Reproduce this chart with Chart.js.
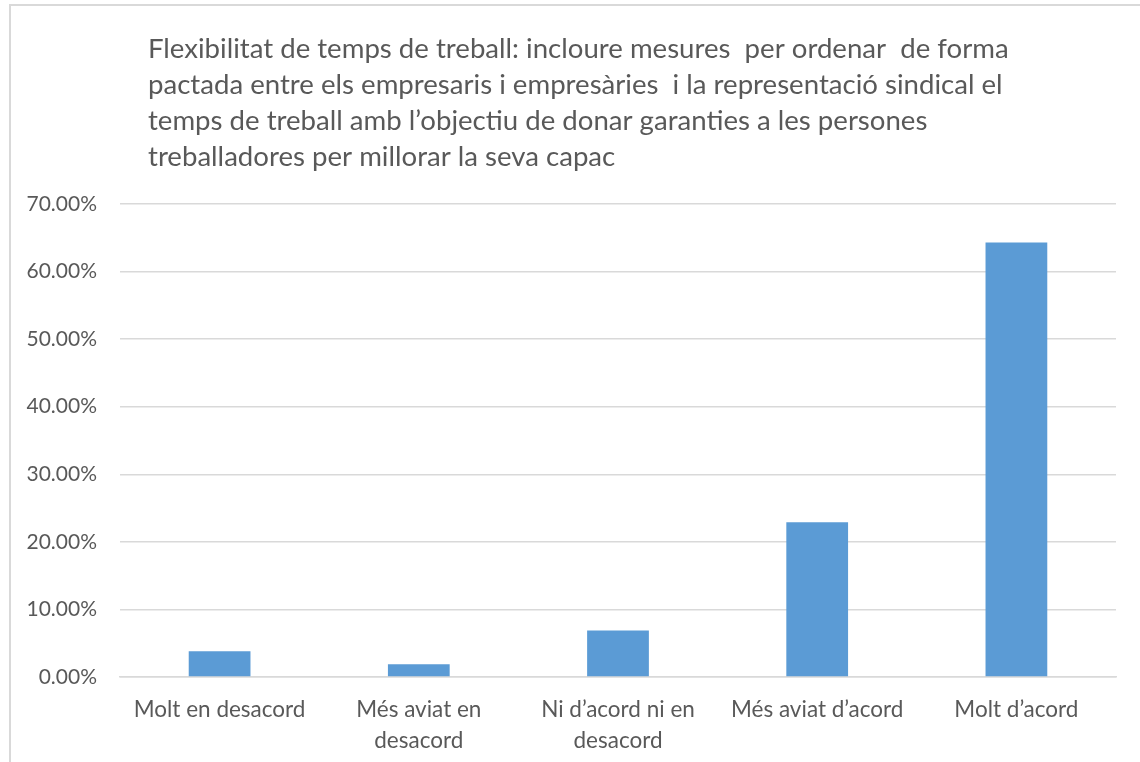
<!DOCTYPE html>
<html>
<head>
<meta charset="utf-8">
<script src="https://cdn.jsdelivr.net/npm/chart.js@4"></script>
<style>
  html, body { margin: 0; padding: 0; background: #ffffff; }
  #wrap { position: absolute; left: 0; top: 0; width: 1140px; height: 762px; }
  #frame { position: absolute; left: 9px; top: 4px; width: 1131px; height: 758px;
           border-left: 2px solid #d9d9d9; border-top: 2px solid #d9d9d9; box-sizing: border-box; }
  canvas { position: absolute; left: 0; top: 0; }
</style>
</head>
<body>
<div id="wrap">
  <div id="frame"></div>
  <canvas id="c" width="1140" height="762"></canvas>
</div>
<script>
const titleLines = [
  "Flexibilitat de temps de treball: incloure mesures  per ordenar  de forma",
  "pactada entre els empresaris i empresàries  i la representació sindical el",
  "temps de treball amb l\u2019objectiu de donar garanties a les persones",
  "treballadores per millorar la seva capac"
];
const categories = [
  ["Molt en desacord"],
  ["Més aviat en", "desacord"],
  ["Ni d\u2019acord ni en", "desacord"],
  ["Més aviat d\u2019acord"],
  ["Molt d\u2019acord"]
];
const values = [3.8, 1.9, 6.9, 22.9, 64.3];
const yTicks = [0, 10, 20, 30, 40, 50, 60, 70];

const textColor = "#595959";
const gridColor = "#d9d9d9";
const barColor = "#5b9bd5";

const titlePlugin = {
  id: "leftTitle",
  afterDraw(chart) {
    const ctx = chart.ctx;
    ctx.save();
    ctx.fillStyle = textColor;
    ctx.font = "27.6px Lato";
    ctx.textAlign = "left";
    ctx.textBaseline = "middle";
    titleLines.forEach((line, i) => ctx.fillText(line, 148, 49 + i * 36));
    ctx.restore();
  }
};

new Chart(document.getElementById("c"), {
  type: "bar",
  data: {
    labels: categories,
    datasets: [{
      data: values,
      backgroundColor: barColor,
      borderWidth: 0,
      barPercentage: 0.62,
      categoryPercentage: 0.5
    }]
  },
  options: {
    responsive: false,
    animation: false,
    devicePixelRatio: 1,
    layout: { padding: { top: 204, right: 24, left: 0, bottom: 0 } },
    plugins: {
      legend: { display: false },
      title: { display: false },
      tooltip: { enabled: false }
    },
    scales: {
      x: {
        grid: { display: false, drawTicks: false },
        border: { display: true, color: gridColor, width: 1.5 },
        ticks: {
          color: textColor,
          font: { family: "Lato", size: 22.5, lineHeight: 1.35 },
          padding: 18,
          maxRotation: 0,
          autoSkip: false
        },
        afterFit(scale) { scale.height = 85; }
      },
      y: {
        min: 0,
        max: 70,
        afterBuildTicks(scale) { scale.ticks = yTicks.map(v => ({ value: v })); },
        grid: { color: gridColor, lineWidth: 1.5, drawTicks: false },
        border: { display: false },
        ticks: {
          color: textColor,
          font: { family: "Lato", size: 21 },
          padding: 23,
          callback: v => v.toFixed(2) + "%"
        },
        afterFit(scale) { scale.width = 120; }
      }
    }
  },
  plugins: [titlePlugin]
});
</script>
</body>
</html>
